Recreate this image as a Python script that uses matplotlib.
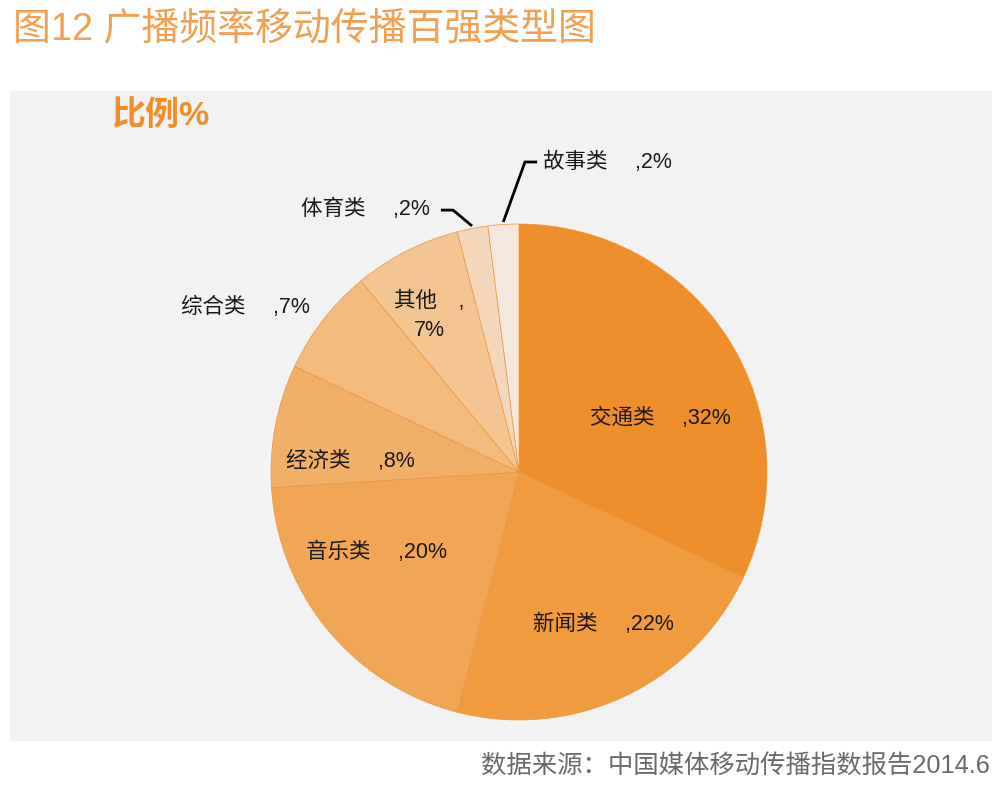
import matplotlib
matplotlib.use('Agg')
import numpy as np
import matplotlib.pyplot as plt
from matplotlib.patches import Rectangle

# 拉丁字符用 Liberation Sans, 汉字回退到 Noto Sans CJK SC
plt.rcParams['font.family'] = ['Liberation Sans', 'Noto Sans CJK SC', 'DejaVu Sans']

# 数据
categories = ['交通类', '新闻类', '音乐类', '经济类', '综合类', '其他', '体育类', '故事类']
shares = [32, 22, 20, 8, 7, 7, 2, 2]
colors = ['#EE8E2B', '#F09B3E', '#F0A654', '#F1B068', '#F2BA7D', '#F3C592', '#F4D7BA', '#F4E8DE']

# 标签位置 (以饼图半径为单位)
label_pos = [(0.569, 0.218), (0.339, -0.613), (-0.575, -0.323), (-0.679, 0.044),
             (-1.105, 0.665), (-0.363, 0.629), (-0.621, 1.060), (0.355, 1.250)]
# 引导线 (起点, 拐点), 仅外部小标签
leaders = {6: [(-0.315, 1.056), (-0.266, 1.056)],
           7: [(0.073, 1.250), (0.024, 1.250)]}

W, H = 1004, 801
fig = plt.figure(figsize=(W / 100, H / 100), dpi=100)
fig.patch.set_facecolor('white')

# 灰色背景面板
fig.add_artist(Rectangle((10 / W, 1 - 741 / H), 982 / W, 650 / H,
                         transform=fig.transFigure, facecolor='#F2F2F2',
                         edgecolor='none', zorder=0))

cx, cy, r = 519, 472, 248
ax = fig.add_axes([(cx - r) / W, (H - cy - r) / H, 2 * r / W, 2 * r / H])
wedges, _ = ax.pie(shares, colors=colors, startangle=90, counterclock=False,
                   radius=1, wedgeprops=dict(edgecolor='#EC9640', linewidth=0.5))
ax.set_xlim(-1, 1)
ax.set_ylim(-1, 1)
ax.set_aspect('equal')
ax.axis('off')

for i, (cat, v) in enumerate(zip(categories, shares)):
    if cat == '其他':
        txt = f'{cat}\u3000,\n{v}%'
    else:
        txt = f'{cat}\u3000 ,{v}%'
    x, y = label_pos[i]
    ax.text(x, y, txt, ha='center', va='center', fontsize=15.5, color='#1A1A1A',
            linespacing=1.45, clip_on=False)

for i, pts in leaders.items():
    w = wedges[i]
    mid = np.deg2rad((w.theta1 + w.theta2) / 2)
    end = (np.cos(mid) * 1.01, np.sin(mid) * 1.01)
    xs = [pts[0][0], pts[1][0], end[0]]
    ys = [pts[0][1], pts[1][1], end[1]]
    ax.plot(xs, ys, color='black', linewidth=2, clip_on=False,
            solid_capstyle='butt', solid_joinstyle='miter')

fig.text(13 / W, 1 - 29 / H, '图12 广播频率移动传播百强类型图', fontsize=27.3,
         color='#F0A050', va='center', ha='left')
fig.text(111 / W, 1 - 116 / H, '比例%', fontsize=24.5, fontweight='bold',
         color='#EE8F2A', va='center', ha='left')
fig.text(990 / W, 1 - 767 / H, '数据来源：中国媒体移动传播指数报告2014.6', fontsize=18.3,
         color='#6A6A6A', va='center', ha='right')

fig.savefig('out.png', dpi=100)
